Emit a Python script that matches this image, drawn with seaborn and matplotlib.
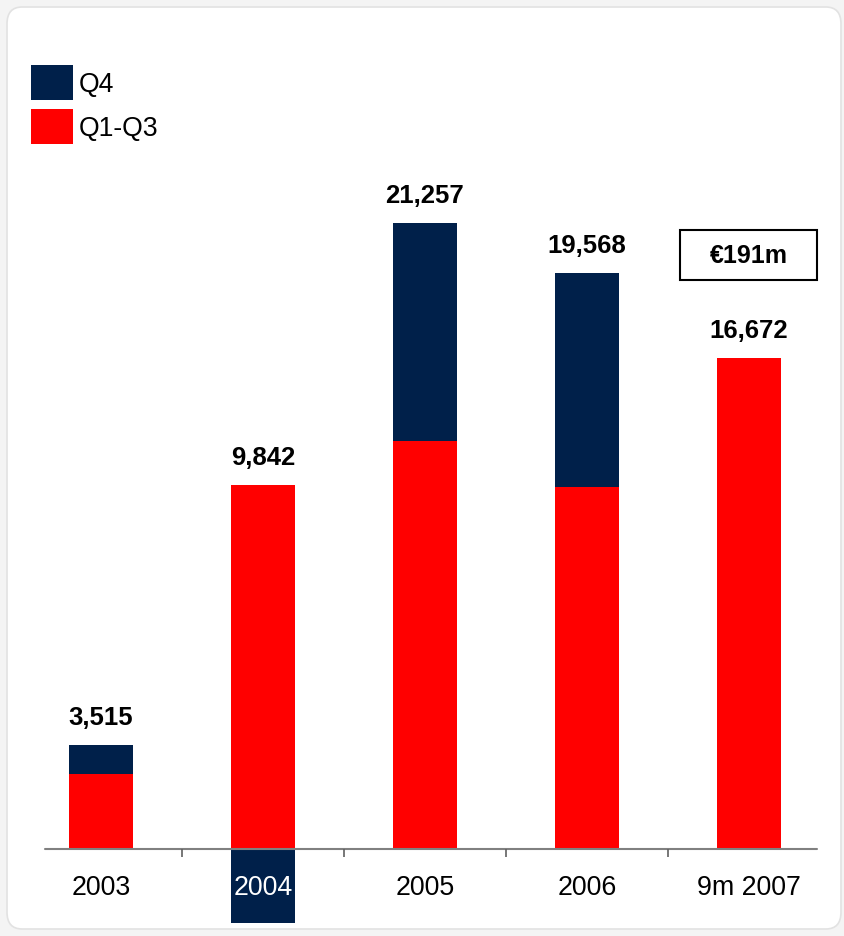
import matplotlib
matplotlib.use("Agg")
import matplotlib.pyplot as plt
from matplotlib.patches import FancyBboxPatch, Rectangle, Patch
import numpy as np
import pandas as pd
import seaborn as sns

# Data (EUR thousands)
periods = ["2003", "2004", "2005", "2006", "9m 2007"]
q1_q3 = [2547, 12350, 13854, 12292, 16672]
q4 = [968, -2508, 7403, 7276, 0]
totals = [3515, 9842, 21257, 19568, 16672]
badge_text = "€191m"

NAVY = "#00204A"
RED = "#FF0000"

sns.set_theme(style="white")
plt.rcParams["font.family"] = ["Liberation Sans", "DejaVu Sans"]
plt.rcParams["text.color"] = "black"

W, H = 844, 937
fig = plt.figure(figsize=(W / 100, H / 100), dpi=100)
fig.patch.set_facecolor("#f4f4f4")

# rounded white card
card = FancyBboxPatch((7 / W, 7 / H), 834 / W, 922 / H,
                      boxstyle="round,pad=0,rounding_size=0.018",
                      transform=fig.transFigure, facecolor="white",
                      edgecolor="#e2e2e2", linewidth=1.2, zorder=-5)
fig.patches.append(card)

# axes placed in pixel terms
ax_bottom, ax_top = 932, 160
zero_px = 850
ax = fig.add_axes([0.0, (H - ax_bottom) / H, 1.0, (ax_bottom - ax_top) / H])
ax.set_facecolor("none")
ax.set_zorder(1)

df = pd.DataFrame({"period": periods, "q1_q3": q1_q3, "q4": q4, "total": totals})
df["pos_top"] = df["q1_q3"] + df["q4"].clip(lower=0)
df["neg_part"] = df["q4"].clip(upper=0)

bw = 0.4
sns.barplot(data=df, x="period", y="pos_top", color=NAVY, width=bw,
            saturation=1, ax=ax, zorder=2)
sns.barplot(data=df, x="period", y="q1_q3", color=RED, width=bw,
            saturation=1, ax=ax, zorder=3)
sns.barplot(data=df, x="period", y="neg_part", color=NAVY, width=bw,
            saturation=1, ax=ax, zorder=2)
for p in ax.patches:
    p.set_edgecolor("none")
    p.set_linewidth(0)

# vertical scale in px per unit
scale = 0.02945
ymin = -(ax_bottom - zero_px) / scale
ymax = (zero_px - ax_top) / scale
ax.set_ylim(ymin, ymax)

# x positions: category 0 at 101 px, step 162 px
step = 162.0
x0_px = 101.0
ax.set_xlim((0 - x0_px) / step, (W - x0_px) / step)

# value labels
for i, row in df.iterrows():
    top = max(row["pos_top"], 0)
    ax.annotate(f"{row['total']:,}", (i, top), xytext=(0, 28),
                textcoords="offset pixels", ha="center", va="center",
                fontsize=18.5, fontweight="bold", color="black", zorder=5)

# axis styling
for s in ["left", "right", "top", "bottom"]:
    ax.spines[s].set_visible(False)
ax.axhline(0, xmin=45 / W, xmax=817 / W, color="#808080", lw=1.5, zorder=4)
ax.set_yticks([])
ax.set_xticks([])
ax.set_xlabel("")
ax.set_ylabel("")
for i, lab in enumerate(periods):
    ax.text(i, -(886 - 848) / scale, lab, ha="center", va="center",
            fontsize=19.3, color="white" if df["q4"][i] < 0 else "black", zorder=5)
# separators between categories
for k in range(len(periods) - 1):
    ax.plot([k + 0.5, k + 0.5], [0, -8 / scale], color="#606060", lw=1.2,
            zorder=4, solid_capstyle="butt")

# legend
handles = [Patch(facecolor=NAVY, edgecolor="none", label="Q4"),
           Patch(facecolor=RED, edgecolor="none", label="Q1-Q3")]
fig.legend(handles=handles, loc="upper left",
           bbox_to_anchor=(31 / W, 1 - 66 / H), bbox_transform=fig.transFigure,
           frameon=False, fontsize=19.2, handlelength=1.59, handleheight=1.65,
           labelspacing=0.33, handletextpad=0.2, borderpad=0, borderaxespad=0,
           labelcolor="black")

# badge box
fig.patches.append(Rectangle((680 / W, 1 - 281 / H), 137 / W, 50 / H,
                             transform=fig.transFigure, facecolor="white",
                             edgecolor="black", linewidth=1.5, zorder=3))
fig.text(748.5 / W, 1 - 256 / H, badge_text, ha="center", va="center",
         fontsize=18, fontweight="bold", color="black", zorder=4)

fig.savefig("out.png", dpi=100, facecolor=fig.get_facecolor())
